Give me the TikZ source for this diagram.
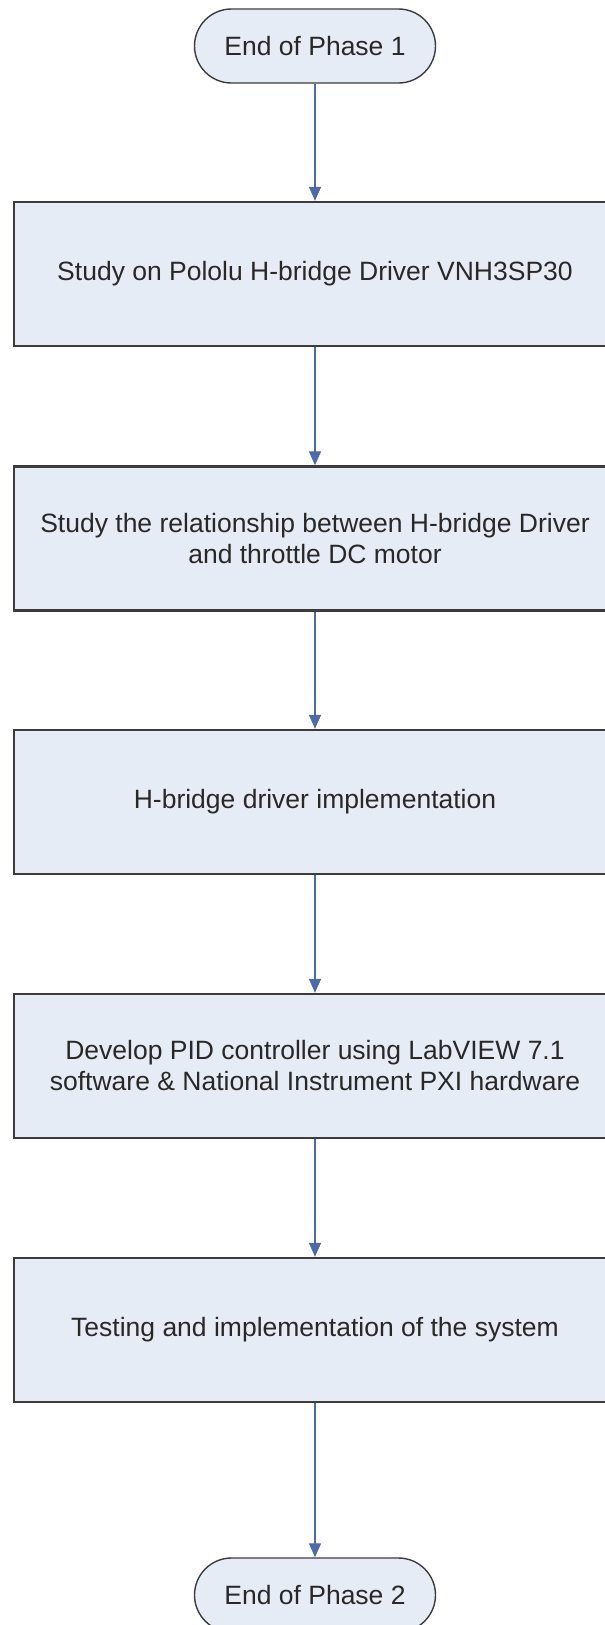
\documentclass[tikz,border=0pt]{standalone}
\usepackage{fontspec}
\setmainfont{Liberation Sans}
\usetikzlibrary{arrows.meta}
\definecolor{boxfill}{RGB}{230,236,246}
\definecolor{boxline}{RGB}{60,60,60}
\definecolor{flowblue}{RGB}{76,106,172}
\definecolor{textgray}{RGB}{40,40,40}
\tikzset{
  stepbox/.style={draw=boxline, line width=2.4pt, fill=boxfill, rectangle,
    minimum width=602pt, minimum height=144pt, inner sep=0pt,
    align=center, text=textgray,
    font=\fontsize{26.5}{31}\selectfont},
  terminal/.style={draw=boxline, line width=1.4pt, fill=boxfill, rectangle,
    rounded corners=37pt, minimum width=241pt, minimum height=74pt,
    inner sep=0pt, text=textgray, font=\fontsize{26.5}{31}\selectfont},
  flow/.style={draw=flowblue, line width=1.3pt,
    -{Triangle[length=14pt,width=12pt]}, color=flowblue}
}
\begin{document}
\begin{tikzpicture}[x=1pt,y=-1pt]
  \clip (0,0) rectangle (605,1625);
  \fill[white] (0,0) rectangle (605,1625);
  \node[terminal] (t1) at (315,46)   {End of Phase 1};
  \node[stepbox]  (b1) at (315,274)  {Study on Pololu H-bridge Driver VNH3SP30};
  \node[stepbox]  (b2) at (315,538.5) {Study the relationship between H-bridge Driver\\and throttle DC motor};
  \node[stepbox]  (b3) at (315,802)  {H-bridge driver implementation};
  \node[stepbox]  (b4) at (315,1066) {Develop PID controller using LabVIEW 7.1\\software \& National Instrument PXI hardware};
  \node[stepbox]  (b5) at (315,1330) {Testing and implementation of the system};
  \node[terminal] (t2) at (315,1595) {End of Phase 2};
  \draw[flow] (t1.south) -- (b1.north);
  \draw[flow] (b1.south) -- (b2.north);
  \draw[flow] (b2.south) -- (b3.north);
  \draw[flow] (b3.south) -- (b4.north);
  \draw[flow] (b4.south) -- (b5.north);
  \draw[flow] (b5.south) -- (t2.north);
\end{tikzpicture}
\end{document}
